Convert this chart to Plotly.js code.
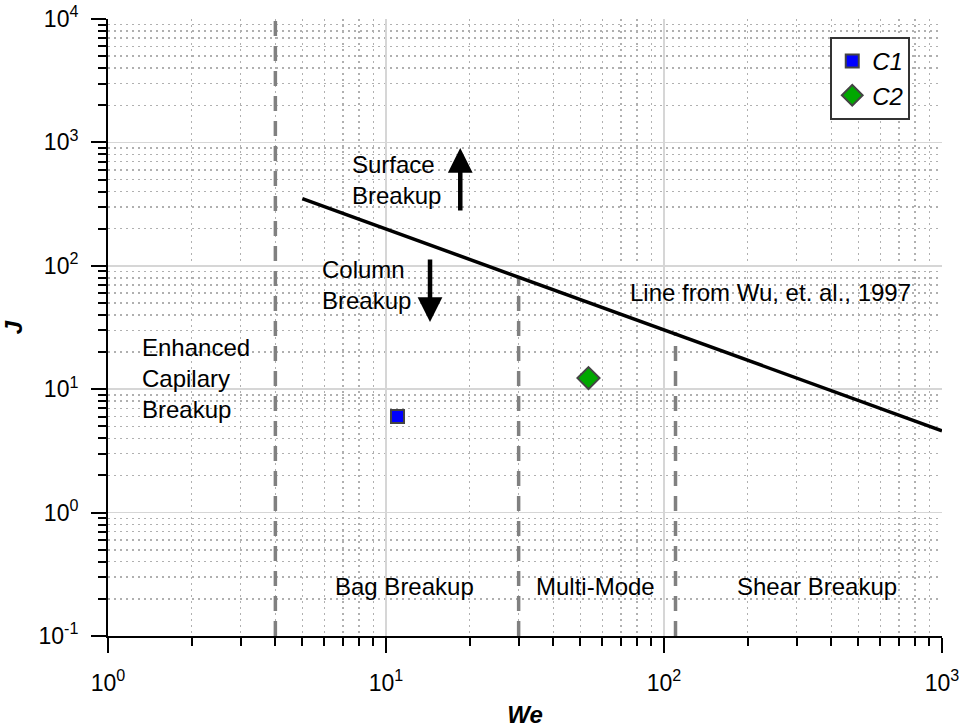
<!DOCTYPE html>
<html>
<head>
<meta charset="utf-8">
<script src="https://cdn.plot.ly/plotly-3.0.1.min.js"></script>
<style>html,body{margin:0;padding:0;background:#fff;}#chart{width:963px;height:728px;}</style>
</head>
<body>
<div id="chart"></div>
<script>
// ---- data ----
const lineWe = [5, 1000];
const lineJ = [350, 4.6];
const regimeWe = [4, 30, 110];
const regimeJTop = [10000, 80, 29];
const regimeJBottom = 0.1;
const c1We = [11];
const c1J = [6];
const c2We = [53.5];
const c2J = [12.3];
const xTickVals = [1, 10, 100, 1000];
const xTickText = ['10<sup>0</sup>', '10<sup>1</sup>', '10<sup>2</sup>', '10<sup>3</sup>'];
const yTickVals = [0.1, 1, 10, 100, 1000, 10000];
const yTickText = ['10<sup>-1</sup>', '10<sup>0</sup>', '10<sup>1</sup>', '10<sup>2</sup>', '10<sup>3</sup>', '10<sup>4</sup>'];

function minorVals(lo, hi) {
  const out = [];
  for (let e = lo; e < hi; e++) for (let m = 2; m <= 9; m++) out.push(m * Math.pow(10, e));
  return out;
}

const FONT = 'Liberation Sans, Arial, Helvetica, sans-serif';
const traces = [];
regimeWe.forEach((w, i) => {
  traces.push({
    x: [w, w], y: [regimeJBottom, regimeJTop[i]], mode: 'lines', showlegend: false,
    line: {color: '#808080', width: 3.5, dash: '15px,10px'}, hoverinfo: 'skip'
  });
});
traces.push({x: lineWe, y: lineJ, mode: 'lines', showlegend: false, line: {color: '#000', width: 3.5}});
traces.push({x: c1We, y: c1J, mode: 'markers', name: 'C1',
  marker: {symbol: 'square', size: 13, color: '#0000ff', line: {color: '#444', width: 2}}});
traces.push({x: c2We, y: c2J, mode: 'markers', name: 'C2',
  marker: {symbol: 'diamond', size: 17, color: '#00a800', line: {color: '#444', width: 2}}});

const axisCommon = {
  type: 'log', showline: true, linecolor: '#000', linewidth: 2,
  ticks: 'outside', ticklen: 15, tickwidth: 2, tickcolor: '#000',
  tickmode: 'array', showgrid: true, gridcolor: '#d6d6d6', gridwidth: 1.5,
  zeroline: false,
  tickfont: {family: FONT, size: 23, color: '#000'}
};

const txt = (s, x, y, opts) => Object.assign({text: s, x: x, y: y, xref: 'x', yref: 'y', showarrow: false,
  font: {family: FONT, size: 24, color: '#000'}}, opts || {});

const layout = {
  width: 963, height: 728,
  margin: {l: 108, r: 21, t: 19, b: 92},
  paper_bgcolor: '#fff', plot_bgcolor: '#fff',
  xaxis: Object.assign({}, axisCommon, {
    range: [0, 3], tickvals: xTickVals, ticktext: xTickText, ticklabelstandoff: 10,
    minor: {tickmode: 'array', tickvals: minorVals(0, 3), ticks: 'outside', ticklen: 8, tickwidth: 2, tickcolor: '#000',
      showgrid: true, gridcolor: '#b0b0b0', gridwidth: 1.5, griddash: '2px,4px'},
    title: {text: '<b><i>We</i></b>', font: {family: FONT, size: 24, color: '#000'}, standoff: 22}
  }),
  yaxis: Object.assign({}, axisCommon, {
    range: [-1, 4], tickvals: yTickVals, ticktext: yTickText, ticklabelstandoff: 8,
    minor: {tickmode: 'array', tickvals: minorVals(-1, 4), ticks: 'outside', ticklen: 8, tickwidth: 2, tickcolor: '#000',
      showgrid: true, gridcolor: '#b0b0b0', gridwidth: 1.5, griddash: '2px,4px'},
    title: {text: '<b><i>J</i></b>', font: {family: FONT, size: 24, color: '#000'}, standoff: 22}
  }),
  showlegend: true,
  legend: {x: 0.866, y: 0.971, xanchor: 'left', yanchor: 'top', bgcolor: '#fff',
    bordercolor: '#333', borderwidth: 2, font: {family: FONT, size: 24, color: '#000', style: 'italic'}},
  annotations: [
    txt('Surface<br>Breakup', 0.8705, 2.695, {xanchor: 'left', align: 'left'}),
    txt('Column<br>Breakup', 0.7626, 1.844, {xanchor: 'left', align: 'left'}),
    txt('Line from Wu, et. al., 1997', 1.8705, 1.78, {xanchor: 'left', align: 'left'}),
    txt('Enhanced<br>Capilary<br>Breakup', 0.1151, 1.083, {xanchor: 'left', align: 'left'}),
    txt('Bag Breakup', 1.068, -0.595),
    txt('Multi-Mode', 1.755, -0.595),
    txt('Shear Breakup', 2.55, -0.595),
    {x: Math.log10(18.5), y: Math.log10(900), xref: 'x', yref: 'y', text: '', showarrow: true,
      arrowhead: 2, arrowsize: 1.1, arrowwidth: 4.5, arrowcolor: '#000', ax: 0, ay: 64},
    {x: Math.log10(14.4), y: Math.log10(35), xref: 'x', yref: 'y', text: '', showarrow: true,
      arrowhead: 2, arrowsize: 1.1, arrowwidth: 4.5, arrowcolor: '#000', ax: 0, ay: -64}
  ]
};

Plotly.newPlot('chart', traces, layout, {displayModeBar: false, staticPlot: true});
</script>
</body>
</html>
